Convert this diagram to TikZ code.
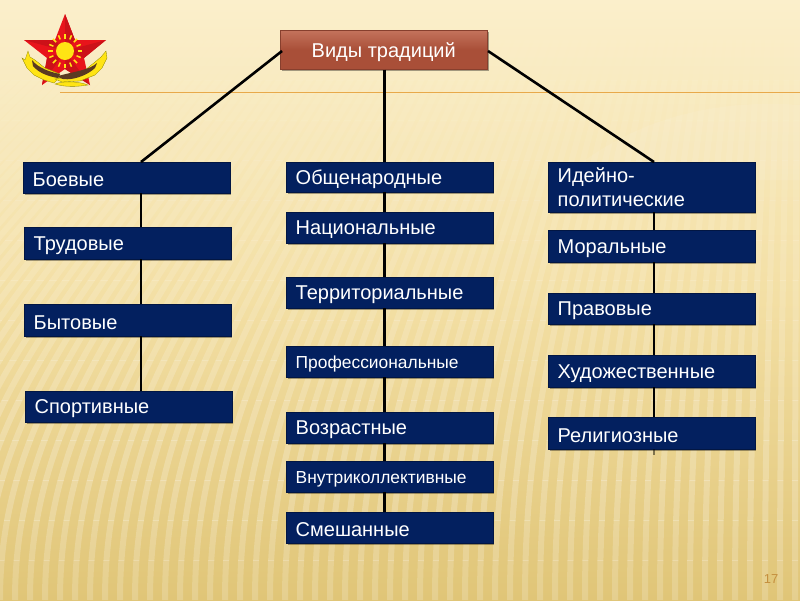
\documentclass[tikz,border=0pt]{standalone}
\usepackage{fontspec}
\setmainfont{Liberation Sans}
\usetikzlibrary{shadows}
\definecolor{navy}{HTML}{03205F}
\definecolor{bgtop}{HTML}{FBEFCB}
\definecolor{bgmid}{HTML}{F3DFA4}
\definecolor{bgbot}{HTML}{E0C577}
\definecolor{brick}{HTML}{A94F38}
\definecolor{brickhi}{HTML}{C4735C}
\definecolor{rule}{HTML}{E8A94A}
\definecolor{starred}{HTML}{E8141B}
\definecolor{stardark}{HTML}{CC1118}
\definecolor{sun}{HTML}{FFE414}
\definecolor{wing}{HTML}{5A3A22}
\tikzset{
  x=1pt,y=-1pt,
  catbox/.style={draw=navy!70!black,line width=.4pt,fill=navy,text=white,anchor=north west,align=left,
    text width=206.5pt,inner sep=0pt,font=\fontsize{20}{24}\selectfont,
    general shadow={fill=black,opacity=.35,shadow xshift=1.5pt,shadow yshift=-2pt}},
  smallcat/.style={catbox,font=\fontsize{17.4}{21}\selectfont},
  link/.style={line width=2.6pt,black},
  wingfill/.style={fill=sun,draw=olive,line width=.3pt},
}
\newcommand{\boxtext}[1]{\hspace*{9.5pt}\parbox[c]{190pt}{\vspace*{4.5pt}#1}}
\newcommand{\catnode}[5]{%
  \node[catbox,minimum height=#5pt] (#1) at (#2,#3) {\boxtext{#4}};}
\begin{document}
\begin{tikzpicture}
\useasboundingbox (0,0) rectangle (800,600);
\shade[top color=bgtop,bottom color=bgbot,middle color=bgmid] (0,0) rectangle (800,600);
\foreach \band/\op in {40/.03,80/.05,120/.07,160/.09,200/.11,240/.13,280/.15,320/.17,360/.19,400/.21,440/.22,480/.22,520/.2,560/.18} {
  \begin{scope}
    \clip (0,\band) rectangle (800,\band+40);
    \foreach \i in {-420,-405,...,810} {
      \pgfmathsetmacro{\s}{(800-\i)*0.36}
      \draw[white,opacity=\op,line width=6pt] (\i,600) .. controls (\i,420) and (\i+0.35*\s,300) .. (\i+\s,40);
    }
  \end{scope}
}
\fill[white,opacity=.08] (560,180) .. controls (640,110) and (730,100) .. (800,105) -- (800,180) -- cycle;
\coordinate (rulestart) at (60,92);
\coordinate (ruleend) at (800,92);
\draw[rule,line width=.9pt] (rulestart) -- (ruleend);

% emblem
\fill[starred] (65,14) -- (75,40) -- (106,40) -- (84,58) -- (90,85) -- (65,69) -- (42,85) -- (47,58) -- (24,40) -- (55,40) -- cycle;
\fill[stardark] (65,14) -- (75,40) -- (65,51) -- cycle;
\fill[stardark] (106,40) -- (84,58) -- (65,51) -- cycle;
\fill[stardark] (90,85) -- (65,69) -- (65,51) -- cycle;
\fill[stardark] (42,85) -- (47,58) -- (65,51) -- cycle;
\fill[stardark] (24,40) -- (55,40) -- (65,51) -- cycle;
\foreach \a in {0,22.5,...,337.5} {
  \draw[sun,line width=1.5pt] (65,51) ++(\a:12.5) -- ++(\a:4.5);
}
\fill[sun] (65,51) circle[radius=9];
\fill[wingfill] (28,51) -- (30,57) -- (35,60) -- (45,68) -- (60,74) -- (58,79) -- (54,83) -- (44,80) -- (34,75) -- (27,68) -- (22,58) -- (25,60) -- cycle;
\fill[wingfill] (106,51) -- (107,58) -- (102,68) -- (95,75) -- (80,81) -- (62,82) -- (55,79) -- (70,76) -- (85,70) -- (95,62) -- (101,57) -- cycle;
\fill[wingfill] (55,84) .. controls (62,81) and (78,81) .. (88,85) .. controls (76,87) and (64,87) .. cycle;
\fill[wing] (32,60) .. controls (38,68) and (50,72) .. (60,74) -- (58,78) .. controls (46,76) and (38,72) .. (33,66) -- cycle;
\fill[wing] (97,63) .. controls (90,70) and (72,72) .. (58,76) .. controls (60,82) and (82,80) .. (95,68) -- cycle;

% connector columns
\coordinate (colL) at (141,0);
\coordinate (colC) at (384.5,0);
\coordinate (colR) at (654,0);
\coordinate (rootL) at (282,51);
\coordinate (rootR) at (488,51);
\coordinate (relTail) at (654,455);

\catnode{boev}{23}{162}{Боевые}{31}
\catnode{trud}{24}{227}{Трудовые}{32}
\catnode{byt}{24}{304}{Бытовые}{32}
\catnode{sport}{25}{391}{Спортивные}{31}
\catnode{obsh}{286}{162}{Общенародные}{30}
\catnode{nat}{286}{212}{Национальные}{31}
\catnode{terr}{286}{277}{Территориальные}{31}
\node[smallcat,minimum height=31pt] (prof) at (286,346) {\boxtext{Профессиональные}};
\catnode{vozr}{286}{412}{Возрастные}{31}
\node[smallcat,minimum height=31pt] (vnut) at (286,461) {\boxtext{Внутриколлективные}};
\catnode{smesh}{286}{512}{Смешанные}{31}
\node[catbox,minimum height=50pt] (ideo) at (548,162) {\hspace*{9.5pt}\parbox[c]{190pt}{Идейно-\\политические}};
\catnode{moral}{548}{230}{Моральные}{32}
\catnode{prav}{548}{293}{Правовые}{31}
\catnode{hud}{548}{355}{Художественные}{32}
\catnode{rel}{548}{417}{Религиозные}{32}
\node[draw=brick!80!black,line width=.5pt,top color=brickhi,bottom color=brick,middle color=brick,
  minimum width=207pt,minimum height=39pt,text=white,anchor=north west,inner sep=0pt,font=\fontsize{20}{24}\selectfont,
  general shadow={fill=black,opacity=.35,shadow xshift=1.5pt,shadow yshift=-2pt}] (root) at (280,30) {\parbox[c]{207pt}{\centering\vspace*{4pt}Виды традиций}};

\draw[link] (rootL) -- (colL |- boev.north);
\draw[link] (rootR) -- (colR |- ideo.north);
\draw[link] (colC |- root.south) -- (colC |- obsh.north);
\draw[link] (colL |- boev.south) -- (colL |- trud.north);
\draw[link] (colL |- trud.south) -- (colL |- byt.north);
\draw[link] (colL |- byt.south) -- (colL |- sport.north);
\draw[link] (colC |- obsh.south) -- (colC |- nat.north);
\draw[link] (colC |- nat.south) -- (colC |- terr.north);
\draw[link] (colC |- terr.south) -- (colC |- prof.north);
\draw[link] (colC |- prof.south) -- (colC |- vozr.north);
\draw[link] (colC |- vozr.south) -- (colC |- vnut.north);
\draw[link] (colC |- vnut.south) -- (colC |- smesh.north);
\draw[link] (colR |- ideo.south) -- (colR |- moral.north);
\draw[link] (colR |- moral.south) -- (colR |- prav.north);
\draw[link] (colR |- prav.south) -- (colR |- hud.north);
\draw[link] (colR |- hud.south) -- (colR |- rel.north);
\draw[link,opacity=.45] (colR |- rel.south) -- (relTail);
\node[text=rule!85!black,font=\fontsize{13}{15}\selectfont,inner sep=0pt] (pagenum) at (771,579) {17};
\end{tikzpicture}
\end{document}
